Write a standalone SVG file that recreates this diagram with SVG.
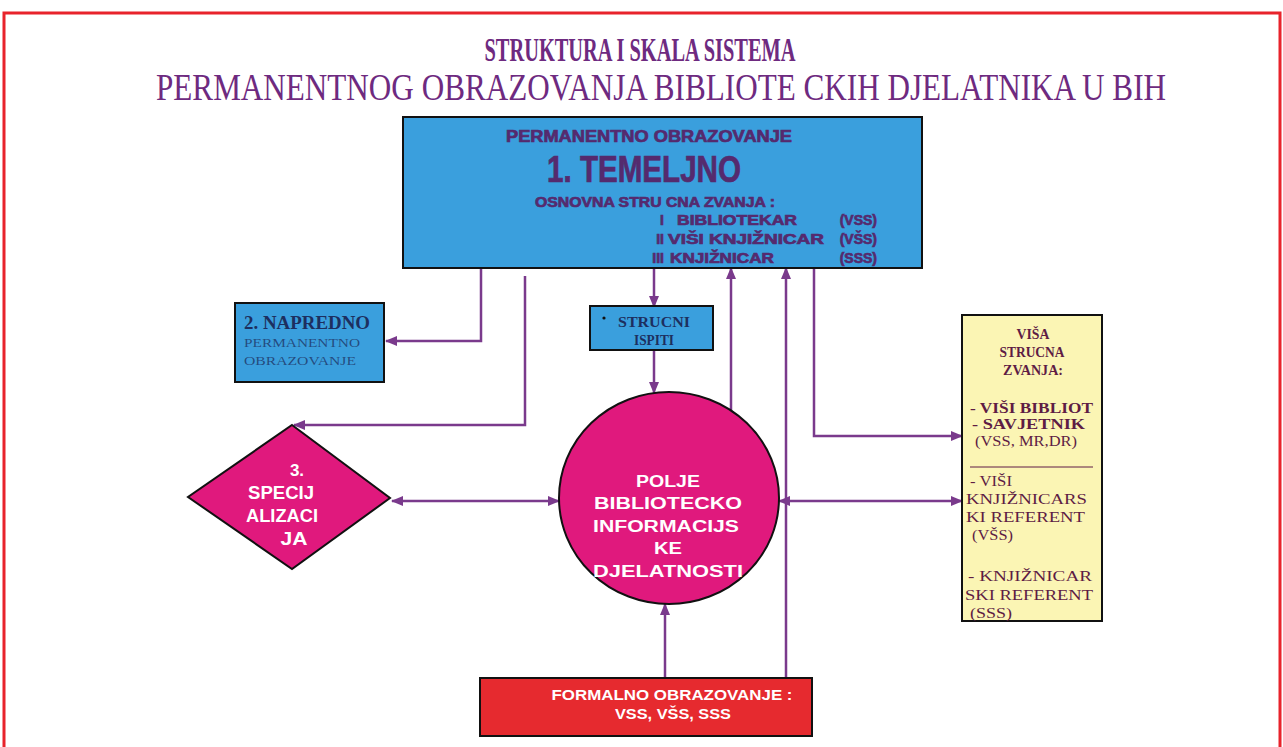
<svg xmlns="http://www.w3.org/2000/svg" width="1283" height="747" viewBox="0 0 1283 747">
<style>
.frame{fill:#fff;stroke:#e8232b;stroke-width:3}
.box{stroke:#111;stroke-width:2}
.blue{fill:#3a9fdd}
.pink{fill:#e0197d}
.red{fill:#e62a2f}
.yellow{fill:#fbf5b4}
.conn{fill:none;stroke:#7a3a8c;stroke-width:2.5}
.ttl{font-family:"Liberation Serif",serif;fill:#6e2a80}
.bx{font-family:"Liberation Sans",Arial,sans-serif;font-weight:bold;fill:#552a6e;stroke:#552a6e;stroke-width:0.7}
.wt{font-family:"Liberation Sans",Arial,sans-serif;font-weight:bold;fill:#fff;text-anchor:middle}
.nv{font-family:"Liberation Serif",serif;fill:#1d2f5f}
.yl{font-family:"Liberation Serif",serif;fill:#5e1c44;font-size:15px}
</style>
<defs>
<marker id="ah" markerUnits="userSpaceOnUse" markerWidth="12" markerHeight="10" refX="11" refY="5" orient="auto-start-reverse">
<path d="M0,0 L12,5 L0,10 Z" fill="#7a3a8c"/>
</marker>
</defs>
<rect class="frame" x="4" y="13" width="1276" height="745"/>
<g id="title">
<text class="ttl" transform="translate(640,61) scale(1,1.3)" x="0" y="0" font-size="26" font-weight="bold" text-anchor="middle" textLength="311" lengthAdjust="spacingAndGlyphs">STRUKTURA I SKALA SISTEMA</text>
<text class="ttl" transform="translate(661,100) scale(1,1.3)" x="0" y="0" font-size="28.5" text-anchor="middle" textLength="1010" lengthAdjust="spacingAndGlyphs">PERMANENTNOG OBRAZOVANJA BIBLIOTE CKIH DJELATNIKA U BIH</text>
</g>
<g id="connectors">
<path class="conn" d="M481,268 V341 H386" marker-end="url(#ah)"/>
<path class="conn" d="M525,276 V425 H294" marker-end="url(#ah)"/>
<path class="conn" d="M654,268 V307" marker-end="url(#ah)"/>
<path class="conn" d="M654,350 V393" marker-end="url(#ah)"/>
<path class="conn" d="M731,411 V268" marker-end="url(#ah)"/>
<path class="conn" d="M786,678 V268" marker-end="url(#ah)"/>
<path class="conn" d="M814,268 V436 H962" marker-end="url(#ah)"/>
<path class="conn" d="M392,501 H559" marker-start="url(#ah)" marker-end="url(#ah)"/>
<path class="conn" d="M779,501 H962" marker-start="url(#ah)" marker-end="url(#ah)"/>
<path class="conn" d="M665,678 V604" marker-end="url(#ah)"/>
</g>
<g id="temeljno">
<rect class="box blue" x="403" y="117" width="519" height="151"/>
<text class="bx" x="649" y="142" font-size="16" text-anchor="middle" textLength="286" lengthAdjust="spacingAndGlyphs">PERMANENTNO OBRAZOVANJE</text>
<text class="bx" x="644" y="182" font-size="36" text-anchor="middle" textLength="194" lengthAdjust="spacingAndGlyphs" stroke-width="1.2">1. TEMELJNO</text>
<text class="bx" x="655" y="207" font-size="14" text-anchor="middle" textLength="240" lengthAdjust="spacingAndGlyphs">OSNOVNA STRU CNA ZVANJA :</text>
<text class="bx" font-size="14" text-anchor="end" x="664" y="225">I</text>
<text class="bx" font-size="14" text-anchor="end" x="664" y="244">II</text>
<text class="bx" font-size="14" text-anchor="end" x="664" y="263">III</text>
<text class="bx" font-size="14" x="677" y="225" textLength="120" lengthAdjust="spacingAndGlyphs">BIBLIOTEKAR</text>
<text class="bx" font-size="14" x="668" y="244" textLength="156" lengthAdjust="spacingAndGlyphs">VIŠI KNJIŽNICAR</text>
<text class="bx" font-size="14" x="670" y="263" textLength="104" lengthAdjust="spacingAndGlyphs">KNJIŽNICAR</text>
<text class="bx" font-size="14" text-anchor="end" x="877" y="225">(VSS)</text>
<text class="bx" font-size="14" text-anchor="end" x="877" y="244">(VŠS)</text>
<text class="bx" font-size="14" text-anchor="end" x="877" y="263">(SSS)</text>
</g>
<g id="napredno">
<rect class="box blue" x="235" y="303" width="149" height="79"/>
<text class="nv" x="244" y="329" font-size="18" font-weight="bold" textLength="126" lengthAdjust="spacingAndGlyphs">2. NAPREDNO</text>
<text class="nv" x="244" y="347" font-size="13" fill-opacity="0.75" textLength="116" lengthAdjust="spacingAndGlyphs">PERMANENTNO</text>
<text class="nv" x="244" y="365" font-size="13" fill-opacity="0.75" textLength="112" lengthAdjust="spacingAndGlyphs">OBRAZOVANJE</text>
</g>
<g id="strucni">
<rect class="box blue" x="590" y="306" width="123" height="44"/>
<circle cx="604" cy="318" r="1.6" fill="#111"/>
<text class="nv" x="654" y="327" font-size="15" font-weight="bold" text-anchor="middle" textLength="72" lengthAdjust="spacingAndGlyphs">STRUCNI</text>
<text class="nv" x="654" y="345" font-size="15" font-weight="bold" text-anchor="middle" textLength="40" lengthAdjust="spacingAndGlyphs">ISPITI</text>
</g>
<g id="specijalizacija">
<polygon class="box pink" points="292,425 390,498 292,569 188,497"/>
<text class="wt" x="297" y="476" font-size="17">3.</text>
<text class="wt" x="281" y="499" font-size="18" textLength="66" lengthAdjust="spacingAndGlyphs">SPECIJ</text>
<text class="wt" x="282" y="522" font-size="18" textLength="72" lengthAdjust="spacingAndGlyphs">ALIZACI</text>
<text class="wt" x="294" y="545" font-size="18" textLength="27" lengthAdjust="spacingAndGlyphs">JA</text>
</g>
<g id="polje">
<ellipse class="box pink" cx="669" cy="498" rx="110" ry="106"/>
<text class="wt" x="668" y="487" font-size="16" textLength="64" lengthAdjust="spacingAndGlyphs">POLJE</text>
<text class="wt" x="668" y="509" font-size="16" textLength="148" lengthAdjust="spacingAndGlyphs">BIBLIOTECKO</text>
<text class="wt" x="666" y="532" font-size="16" textLength="146" lengthAdjust="spacingAndGlyphs">INFORMACIJS</text>
<text class="wt" x="668" y="554" font-size="16" textLength="28" lengthAdjust="spacingAndGlyphs">KE</text>
<text class="wt" x="668" y="577" font-size="16" textLength="150" lengthAdjust="spacingAndGlyphs">DJELATNOSTI</text>
</g>
<g id="visa">
<rect class="box yellow" x="962" y="315" width="140" height="306"/>
<text class="yl" x="1033" y="339" font-weight="bold" text-anchor="middle" textLength="33" lengthAdjust="spacingAndGlyphs">VIŠA</text>
<text class="yl" x="1032" y="357" font-weight="bold" text-anchor="middle" textLength="65" lengthAdjust="spacingAndGlyphs">STRUCNA</text>
<text class="yl" x="1033" y="375" font-weight="bold" text-anchor="middle" textLength="60" lengthAdjust="spacingAndGlyphs">ZVANJA:</text>
<text class="yl" x="970" y="413" font-weight="bold" textLength="123" lengthAdjust="spacingAndGlyphs">- VIŠI BIBLIOT</text>
<text class="yl" x="972" y="429" font-weight="bold" textLength="113" lengthAdjust="spacingAndGlyphs">-  SAVJETNIK</text>
<text class="yl" x="975" y="446" textLength="102" lengthAdjust="spacingAndGlyphs">(VSS, MR,DR)</text>
<line x1="970" y1="467" x2="1093" y2="467" stroke="#5e1c44" stroke-width="1"/>
<text class="yl" x="970" y="486" textLength="42" lengthAdjust="spacingAndGlyphs">- VIŠI</text>
<text class="yl" x="966" y="504" textLength="121" lengthAdjust="spacingAndGlyphs">KNJIŽNICARS</text>
<text class="yl" x="966" y="522" textLength="119" lengthAdjust="spacingAndGlyphs">KI REFERENT</text>
<text class="yl" x="972" y="540" textLength="41" lengthAdjust="spacingAndGlyphs">(VŠS)</text>
<text class="yl" x="968" y="581" textLength="124" lengthAdjust="spacingAndGlyphs">- KNJIŽNICAR</text>
<text class="yl" x="965" y="600" textLength="128" lengthAdjust="spacingAndGlyphs">SKI REFERENT</text>
<text class="yl" x="970" y="618" textLength="42" lengthAdjust="spacingAndGlyphs">(SSS)</text>
</g>
<g id="formalno">
<rect class="box red" x="480" y="678" width="332" height="58"/>
<text class="wt" x="672" y="700" font-size="14" textLength="241" lengthAdjust="spacingAndGlyphs">FORMALNO OBRAZOVANJE :</text>
<text class="wt" x="673" y="719" font-size="14" textLength="116" lengthAdjust="spacingAndGlyphs">VSS, VŠS, SSS</text>
</g>
</svg>
